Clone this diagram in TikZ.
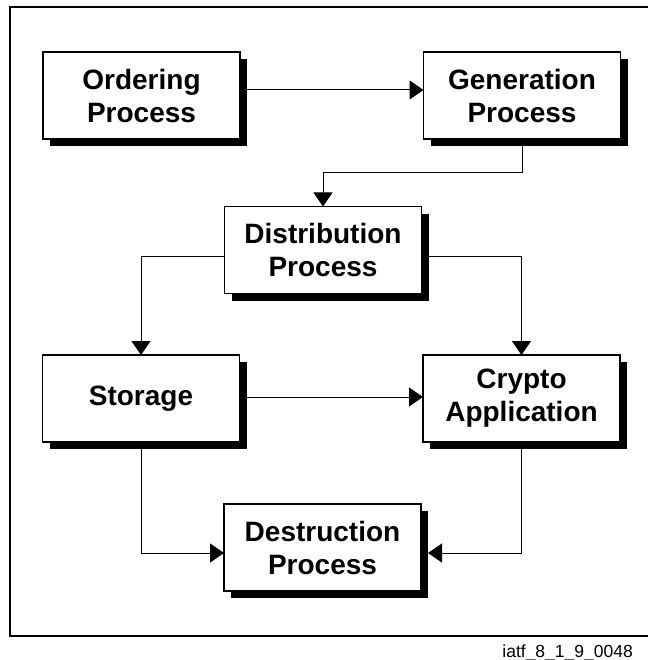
\documentclass[tikz,border=0pt]{standalone}
\usepackage{fontspec}
\setmainfont{Liberation Sans}
\usetikzlibrary{arrows.meta,shadows}
\tikzset{
  procbox/.style={draw=black, line width=1.5pt, fill=white, minimum width=197pt, minimum height=87pt,
    inner sep=0pt, outer sep=0pt, align=center,
    font=\fontsize{28}{33}\selectfont\bfseries,
    drop shadow={shadow xshift=7pt, shadow yshift=-7pt, fill=black, opacity=1}},
  conn/.style={line width=1pt, -{Triangle[length=14pt,width=19pt]}},
  framestyle/.style={line width=1.2pt},
}
\begin{document}
\begin{tikzpicture}[x=1pt,y=-1pt]
\useasboundingbox (0,0) rectangle (647,660);
\draw[framestyle] (648,7) -- (10,7) -- (10,636) -- (648,636);

\node[procbox] (ord) at (141.5,95.5) {Ordering\\Process};
\node[procbox] (gen) at (522,95.5) {Generation\\Process};
\node[procbox] (dist) at (323,250) {Distribution\\Process};
\node[procbox] (sto) at (141,398.5) {Storage};
\node[procbox] (cry) at (521.5,398.5) {Crypto\\Application};
\node[procbox] (des) at (322.5,547.5) {Destruction\\Process};

\draw[conn] ([xshift=7pt,yshift=5.5pt]ord.east) -- ([yshift=5.5pt]gen.west);
\draw[conn] ([yshift=-7pt]gen.south) -- (gen.south |- 0,173) -| (dist.north);
\draw[conn] ([yshift=-6pt]dist.west) -| (sto.north);
\draw[conn] ([xshift=7pt,yshift=-6pt]dist.east) -| (cry.north);
\draw[conn] ([xshift=7pt,yshift=1.5pt]sto.east) -- ([yshift=1.5pt]cry.west);
\draw[conn] ([yshift=-7pt]sto.south) |- ([yshift=-5.5pt]des.west);
\draw[conn] ([yshift=-7pt]cry.south) |- ([xshift=7pt,yshift=-5.5pt]des.east);

\node[anchor=base east, inner sep=0pt, font=\fontsize{17.5}{20}\selectfont] (lbl) at (633,657) {iatf\_8\_1\_9\_0048};
\end{tikzpicture}
\end{document}
